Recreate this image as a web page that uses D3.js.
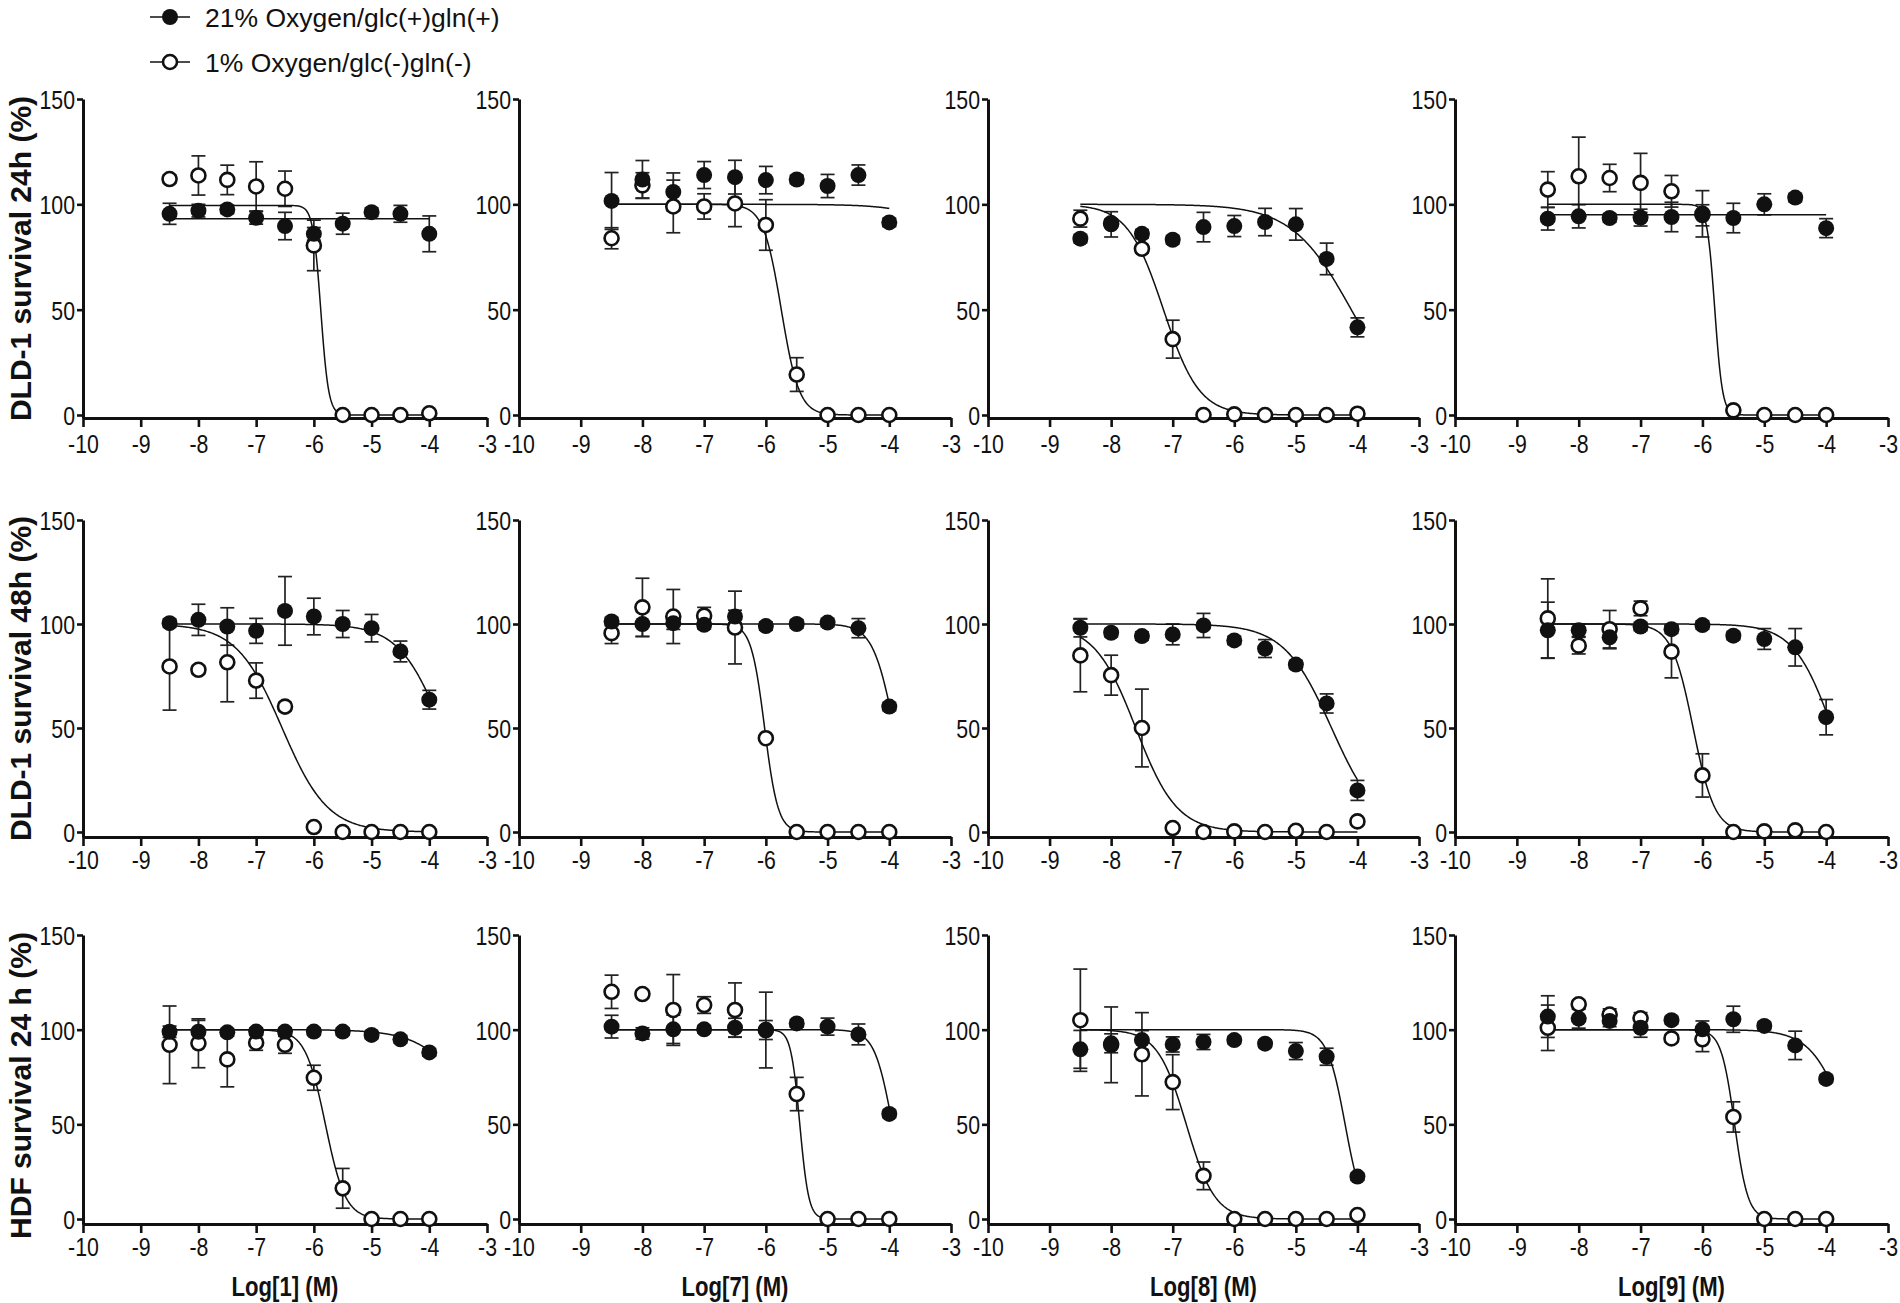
<!DOCTYPE html>
<html><head><meta charset="utf-8">
<script src="https://cdn.jsdelivr.net/npm/d3@7/dist/d3.min.js"></script>
<style>body{margin:0;background:#fff;} svg{display:block;}</style>
</head><body>
<svg id="chart" width="1900" height="1303"></svg>
<script>
// ---------------- data ----------------
const doses = [-8.5, -8, -7.5, -7, -6.5, -6, -5.5, -5, -4.5, -4];
const xTicks = [-10, -9, -8, -7, -6, -5, -4, -3];
const yTicks = [0, 50, 100, 150];
const legendLabels = ["21% Oxygen/glc(+)gln(+)", "1% Oxygen/glc(-)gln(-)"];
const rowTitles = ["DLD-1 survival 24h (%)", "DLD-1 survival 48h (%)", "HDF survival 24 h (%)"];
const colTitles = ["Log[1] (M)", "Log[7] (M)", "Log[8] (M)", "Log[9] (M)"];

// N = 21% O2 glc(+)gln(+) (filled), H = 1% O2 glc(-)gln(-) (open); Err = error bar half-length
// fit = [top, bottom, logIC50, hill] of the drawn dose-response fit
// Row 1: DLD-1 24 h
const d24_c1_N    = [95.5, 97, 97.6, 93.6, 89.7, 86, 90.8, 96.3, 95.5, 86];
const d24_c1_NErr = [5, 3, 2, 3, 6.5, 3, 5, 2, 4, 8.5];
const d24_c1_H    = [112, 113.7, 111.6, 108.5, 107.4, 80.5, 0, 0, 0, 0.8];
const d24_c1_HErr = [2, 9.3, 7, 11.7, 8.4, 12, 0, 0, 0, 0];
const d24_c1_fitN = [93.2, 93.2, -6, 1];
const d24_c1_fitH = [99.5, 0, -5.88, 6.4];

const d24_c7_N    = [101.6, 111.8, 105.9, 113.9, 112.9, 111.5, 111.8, 108.7, 113.9, 91.4];
const d24_c7_NErr = [13.5, 9, 9, 6.4, 8, 6.5, 2, 5.5, 4.8, 2];
const d24_c7_H    = [83.9, 109, 99, 99, 100.4, 90.2, 19.2, 0, 0, 0];
const d24_c7_HErr = [5, 6, 12.5, 6, 11, 12, 8, 0, 0, 0];
const d24_c7_fitN = [100, 0, -2.3, 1];
const d24_c7_fitH = [100, 0, -5.75, 3];

const d24_c8_N    = [83.7, 90.5, 86, 83.2, 89.2, 89.7, 91.6, 90.5, 74.1, 41.6];
const d24_c8_NErr = [2, 6, 2, 2, 7, 5, 6.5, 7.5, 7.5, 4.5];
const d24_c8_H    = [93.2, 91, 78.9, 36, 0, 0.3, 0, 0, 0, 0.6];
const d24_c8_HErr = [4, 2, 2, 9, 0, 0, 0, 0, 0, 0];
const d24_c8_fitN = [100, 0, -4.1, 0.9];
const d24_c8_fitH = [100, 0, -7.15, 1.5];

const d24_c9_N    = [93.2, 94.3, 93.5, 93.7, 94, 94.8, 93.5, 100, 103.2, 88.7];
const d24_c9_NErr = [5.4, 5.5, 2, 4, 7, 5, 7, 5, 2, 4.5];
const d24_c9_H    = [107, 113.3, 112.5, 110.2, 106.2, 95.5, 2.2, 0, 0, 0];
const d24_c9_HErr = [8.5, 18.6, 6.5, 14, 7.5, 11, 0, 0, 0, 0];
const d24_c9_fitN = [95, 95, -6, 1];
const d24_c9_fitH = [100, 0, -5.8, 7];

// Row 2: DLD-1 48 h
const d48_c1_N    = [100.4, 102, 98.8, 96.7, 106.3, 103.6, 100, 98, 86.8, 63.6];
const d48_c1_NErr = [2, 7.5, 9, 6, 16.5, 8.8, 6.5, 6.6, 5, 4.5];
const d48_c1_H    = [79.6, 78, 81.6, 72.8, 60.3, 2.4, 0, 0, 0, 0];
const d48_c1_HErr = [21, 2, 19, 8.5, 2, 0, 0, 0, 0, 0];
const d48_c1_fitN = [100, 0, -3.77, 1.15];
const d48_c1_fitH = [100, 0, -6.55, 1.1];

const d48_c7_N    = [101.2, 100, 100.4, 99.6, 103.6, 99, 100, 100.7, 98, 60.3];
const d48_c7_NErr = [2, 6, 3, 2, 3, 2, 2, 2, 4.6, 2];
const d48_c7_H    = [95.6, 108, 103.6, 104, 98.3, 45.1, 0, 0, 0, 0];
const d48_c7_HErr = [5, 14, 13, 4, 17.5, 0, 0, 0, 0, 0];
const d48_c7_fitN = [100, 0, -3.92, 2.5];
const d48_c7_fitH = [100, 0, -6.02, 4];

const d48_c8_N    = [98.2, 95.8, 94.2, 95, 99.3, 92.1, 88.2, 80.5, 61.8, 20];
const d48_c8_NErr = [4.4, 2, 2, 5, 5.8, 2, 4.3, 2, 4.6, 4.8];
const d48_c8_H    = [84.9, 75.4, 50, 1.9, 0, 0.3, 0, 0.6, 0, 5.1];
const d48_c8_HErr = [17.5, 9.6, 18.7, 0, 0, 0, 0, 0, 0, 0];
const d48_c8_fitN = [100, 0, -4.42, 1.13];
const d48_c8_fitH = [100, 0, -7.6, 1.3];

const d48_c9_N    = [97, 97, 93.6, 98.8, 97.5, 99.5, 94.4, 92.8, 88.8, 55.2];
const d48_c9_NErr = [13.5, 3, 5.5, 2, 2, 2, 2, 5, 9, 8.5];
const d48_c9_H    = [102.7, 89.6, 97.5, 107.5, 86.7, 27.2, 0, 0.3, 0.8, 0];
const d48_c9_HErr = [19, 4, 9, 3.5, 12.6, 10.4, 0, 0, 0, 0];
const d48_c9_fitN = [100, 0, -3.9, 1.39];
const d48_c9_fitH = [100, 0, -6.15, 2.5];

// Row 3: HDF 24 h
const h24_c1_N    = [98.9, 98.9, 98.6, 99, 99, 99, 99, 97.2, 94.9, 88];
const h24_c1_NErr = [3, 6, 2, 2, 2, 2, 2, 2, 2, 2];
const h24_c1_H    = [92, 92.8, 84.3, 93.1, 92, 74.6, 16.2, 0, 0, 0];
const h24_c1_HErr = [20.5, 12.9, 14.5, 4, 4.5, 6.6, 10.5, 0, 0, 0];
const h24_c1_fitN = [100, 0, -3.1, 1];
const h24_c1_fitH = [100, 0, -5.8, 2.5];

const h24_c7_N    = [101.6, 98, 100.2, 100.2, 101, 99.8, 103.3, 101.6, 97.5, 55.5];
const h24_c7_NErr = [6, 3, 7.5, 2, 5, 5, 2, 4.5, 5.5, 2];
const h24_c7_H    = [120, 118.8, 110.4, 113, 110.4, 99.8, 66, 0, 0, 0];
const h24_c7_HErr = [8.8, 2, 18.7, 4.4, 14.3, 20, 8.8, 0, 0, 0];
const h24_c7_fitN = [100, 0, -3.95, 3];
const h24_c7_fitH = [100, 0, -5.45, 6];

const h24_c8_N    = [89.6, 92.8, 94.5, 92.2, 93.5, 94.5, 92.6, 88.7, 85.7, 22.4];
const h24_c8_NErr = [10, 5, 5, 4, 4, 2, 2, 4.5, 4.5, 2];
const h24_c8_H    = [105, 92, 87, 72.3, 22.8, 0, 0, 0, 0, 2.1];
const h24_c8_HErr = [27, 20, 22, 14.5, 7.3, 0, 0, 0, 0, 0];
const h24_c8_fitN = [100, 0, -4.2, 3];
const h24_c8_fitH = [100, 0, -6.78, 1.87];

const h24_c9_N    = [106.9, 105.8, 104.6, 101, 105, 100.2, 105.5, 102, 91.7, 74];
const h24_c9_NErr = [11, 5, 3, 5, 2, 4.4, 6.9, 2, 7.5, 2];
const h24_c9_H    = [101, 113.4, 108, 106, 95.4, 94.9, 53.9, 0, 0, 0];
const h24_c9_HErr = [12, 2, 3, 3, 2, 6.5, 8, 0, 0, 0];
const h24_c9_fitN = [100, 0, -3.65, 1.5];
const h24_c9_fitH = [100, 0, -5.48, 4];

// table built from the arrays above
const panels = [
  [d24_c1_N, d24_c1_NErr, d24_c1_H, d24_c1_HErr, d24_c1_fitN, d24_c1_fitH],
  [d24_c7_N, d24_c7_NErr, d24_c7_H, d24_c7_HErr, d24_c7_fitN, d24_c7_fitH],
  [d24_c8_N, d24_c8_NErr, d24_c8_H, d24_c8_HErr, d24_c8_fitN, d24_c8_fitH],
  [d24_c9_N, d24_c9_NErr, d24_c9_H, d24_c9_HErr, d24_c9_fitN, d24_c9_fitH],
  [d48_c1_N, d48_c1_NErr, d48_c1_H, d48_c1_HErr, d48_c1_fitN, d48_c1_fitH],
  [d48_c7_N, d48_c7_NErr, d48_c7_H, d48_c7_HErr, d48_c7_fitN, d48_c7_fitH],
  [d48_c8_N, d48_c8_NErr, d48_c8_H, d48_c8_HErr, d48_c8_fitN, d48_c8_fitH],
  [d48_c9_N, d48_c9_NErr, d48_c9_H, d48_c9_HErr, d48_c9_fitN, d48_c9_fitH],
  [h24_c1_N, h24_c1_NErr, h24_c1_H, h24_c1_HErr, h24_c1_fitN, h24_c1_fitH],
  [h24_c7_N, h24_c7_NErr, h24_c7_H, h24_c7_HErr, h24_c7_fitN, h24_c7_fitH],
  [h24_c8_N, h24_c8_NErr, h24_c8_H, h24_c8_HErr, h24_c8_fitN, h24_c8_fitH],
  [h24_c9_N, h24_c9_NErr, h24_c9_H, h24_c9_HErr, h24_c9_fitN, h24_c9_fitH]
];

// ---------------- layout ----------------
const colX = [[83, 487], [519, 951], [988, 1419], [1455, 1888]];
const rowY = [
  {top: 99, zero: 415, axis: 418, pad: 8},
  {top: 520, zero: 832, axis: 837, pad: 5},
  {top: 935, zero: 1219, axis: 1224, pad: 5}
];

// check narrow font availability
function fontAvailable(fam) {
  const c = document.createElement('canvas').getContext('2d');
  const s = '0123456789 Log[1] (M) abcdefghij';
  c.font = '40px monospace'; const a = c.measureText(s).width;
  c.font = `40px '${fam}', monospace`; const b = c.measureText(s).width;
  return Math.abs(a - b) > 0.5;
}
const hasNarrow = fontAvailable('Liberation Sans Narrow');
const narrowFam = hasNarrow ? "'Liberation Sans Narrow', 'Liberation Sans', Arial, sans-serif" : "'Liberation Sans', Arial, sans-serif";
function condense(sel) {
  if (hasNarrow) return;
  sel.each(function () {
    const t = d3.select(this);
    const x = +t.attr('x') || 0;
    t.attr('transform', `translate(${x},0) scale(0.82,1) translate(${-x},0)`);
  });
}

const svg = d3.select('#chart');
const INK = '#111';

function fourPL(p, x) {
  const [top, bottom, c, h] = p;
  return bottom + (top - bottom) / (1 + Math.pow(10, (x - c) * h));
}

panels.forEach((pd, i) => {
  const r = Math.floor(i / 4), c = i % 4;
  const [N, NErr, H, HErr, fitN, fitH] = pd;
  const ry = rowY[r];
  const perUnit = (ry.zero - ry.top) / 150;
  const yMin = -(ry.axis - ry.zero) / perUnit;
  const x = d3.scaleLinear().domain([-10, -3]).range(colX[c]);
  const y = d3.scaleLinear().domain([yMin, 150]).range([ry.axis, ry.top]);
  const g = svg.append('g');

  // axes
  const ya = g.append('g').attr('transform', `translate(${x(-10)},0)`)
    .call(d3.axisLeft(y).tickValues(yTicks).tickSize(6).tickSizeOuter(0).tickPadding(2));
  const xa = g.append('g').attr('transform', `translate(0,${y(yMin)})`)
    .call(d3.axisBottom(x).tickValues(xTicks).tickSize(9).tickSizeOuter(0).tickPadding(ry.pad).tickFormat(d3.format('d')));
  [ya, xa].forEach(a => {
    a.select('.domain').attr('stroke', INK).attr('stroke-width', 3);
    a.selectAll('.tick line').attr('stroke', INK).attr('stroke-width', 2.6);
    a.selectAll('.tick text').attr('fill', INK).attr('font-family', narrowFam)
      .attr('font-size', 26).attr('font-weight', 'normal');
    condense(a.selectAll('.tick text'));
  });
  ya.selectAll('.tick text').attr('dy', '0.36em');
  xa.selectAll('.tick text').text(d => d < 0 ? '-' + Math.abs(d) : d);

  const series = [
    {v: H, e: HErr, fit: fitH, open: true},
    {v: N, e: NErr, fit: fitN, open: false}
  ];
  // error bars
  series.forEach(s => {
    const eb = g.append('g').attr('stroke', '#222').attr('stroke-width', 1.7).attr('fill', 'none');
    doses.forEach((d, k) => {
      if (!(s.e[k] > 0)) return;
      const cx = x(d), y1 = y(s.v[k] + s.e[k]), y2 = y(s.v[k] - s.e[k]);
      eb.append('line').attr('x1', cx).attr('x2', cx).attr('y1', y1).attr('y2', y2);
      eb.append('line').attr('x1', cx - 7).attr('x2', cx + 7).attr('y1', y1).attr('y2', y1);
      eb.append('line').attr('x1', cx - 7).attr('x2', cx + 7).attr('y1', y2).attr('y2', y2);
    });
  });
  // fitted curves
  const line = d3.line().x(p => x(p[0])).y(p => y(p[1]));
  const xs = d3.range(0, 301).map(k => doses[0] + (doses[doses.length - 1] - doses[0]) * k / 300);
  series.forEach(s => {
    g.append('path').attr('d', line(xs.map(xx => [xx, fourPL(s.fit, xx)])))
      .attr('fill', 'none').attr('stroke', INK).attr('stroke-width', 1.5);
  });
  // points
  series.forEach(s => {
    g.append('g').selectAll('circle').data(doses).join('circle')
      .attr('cx', d => x(d)).attr('cy', (d, k) => y(s.v[k]))
      .attr('r', s.open ? 7 : 8)
      .attr('fill', s.open ? '#fff' : INK)
      .attr('stroke', INK).attr('stroke-width', s.open ? 2.6 : 0);
  });

  // column titles (bottom row)
  if (r === 2) {
    const t = g.append('text').attr('x', (x(-10) + x(-3)) / 2).attr('y', 1296)
      .attr('text-anchor', 'middle').attr('font-family', narrowFam).attr('font-weight', 'bold')
      .attr('font-size', 27).attr('fill', INK).text(colTitles[c]);
    condense(t);
  }
});

// row titles
rowTitles.forEach((t, r) => {
  const cy = (rowY[r].top + rowY[r].axis) / 2 + (r === 2 ? 6 : 0);
  svg.append('text').attr('transform', `translate(31,${cy}) rotate(-90)`)
    .attr('text-anchor', 'middle').attr('font-family', "'Liberation Sans', Arial, sans-serif")
    .attr('font-weight', 'bold').attr('font-size', 30).attr('fill', INK).text(t);
});

// legend
legendLabels.forEach((lab, k) => {
  const ly = 17 + k * 45;
  const lg = svg.append('g');
  lg.append('line').attr('x1', 150).attr('x2', 190).attr('y1', ly).attr('y2', ly)
    .attr('stroke', INK).attr('stroke-width', 1.6);
  lg.append('circle').attr('cx', 170).attr('cy', ly).attr('r', k === 0 ? 8 : 7)
    .attr('fill', k === 0 ? INK : '#fff').attr('stroke', INK).attr('stroke-width', k === 0 ? 0 : 2.6);
  lg.append('text').attr('x', 205).attr('y', ly).attr('dy', '0.36em')
    .attr('font-family', "'Liberation Sans', Arial, sans-serif").attr('font-size', 26.5)
    .attr('fill', INK).text(lab);
});
</script>
</body></html>
